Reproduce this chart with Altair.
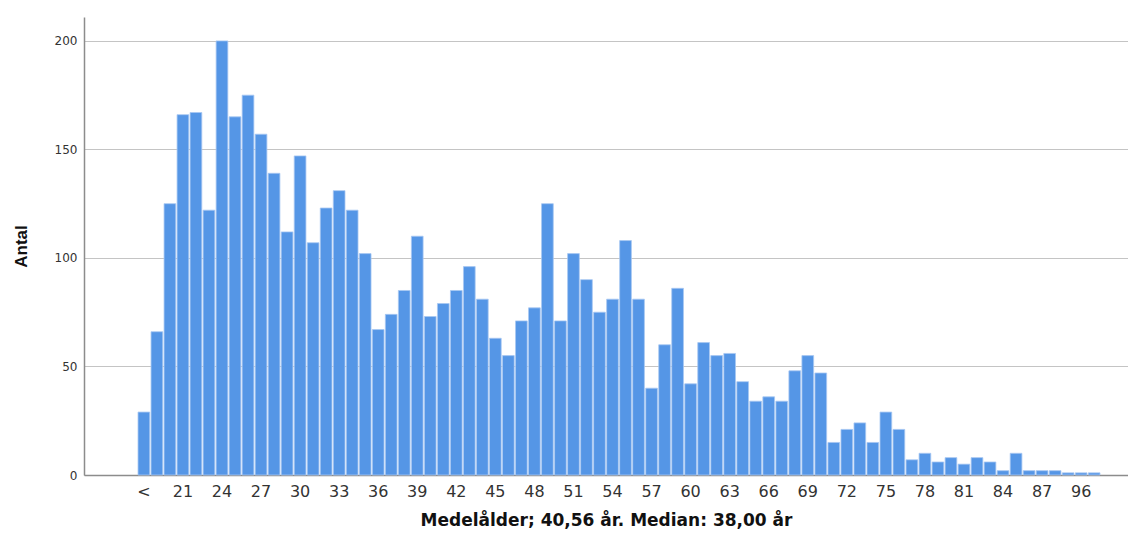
import altair as alt
import pandas as pd

categories = ["<"] + [str(a) for a in range(19, 89)] + ["91", "96", "98"]
counts = [29, 66, 125, 166, 167, 122, 200, 165, 175, 157,
          139, 112, 147, 107, 123, 131, 122, 102, 67, 74,
          85, 110, 73, 79, 85, 96, 81, 63, 55, 71,
          77, 125, 71, 102, 90, 75, 81, 108, 81, 40,
          60, 86, 42, 61, 55, 56, 43, 34, 36, 34,
          48, 55, 47, 15, 21, 24, 15, 29, 21, 7,
          10, 6, 8, 5, 8, 6, 2, 10, 2, 2,
          2, 1, 1, 1]
shown_labels = ["<"] + [str(a) for a in range(21, 88, 3)] + ["96"]
y_ticks = [0, 50, 100, 150, 200]

# empty slots so the bars sit where they do in the original axis
domain = ["_l1", "_l2", "_l3", "_l4"] + categories + ["_r1", "_r2"]

df = pd.DataFrame({"cat": categories, "n": counts})

chart = alt.Chart(df).mark_bar(
    color="#5596e6", stroke="#a8c8f2", strokeWidth=0.8
).encode(
    x=alt.X("cat:N",
            scale=alt.Scale(domain=domain, paddingInner=0.1, paddingOuter=0.15),
            axis=alt.Axis(values=shown_labels, labelAngle=0, ticks=False,
                          labelFont="DejaVu Sans", labelFontSize=16,
                          labelColor="#333333", labelPadding=8,
                          domainColor="#8c8c8c", domainWidth=1.5,
                          title="Medelålder; 40,56 år. Median: 38,00 år",
                          titleFont="DejaVu Sans", titleFontSize=17,
                          titleFontWeight="bold", titleColor="#111111",
                          titlePadding=13, grid=False)),
    y=alt.Y("n:Q", scale=alt.Scale(domain=[0, 211], nice=False),
            axis=alt.Axis(values=y_ticks, ticks=False,
                          labelFont="DejaVu Sans", labelFontSize=12,
                          labelColor="#333333", labelPadding=7,
                          domainColor="#8c8c8c", domainWidth=1.5,
                          gridColor="#c4c4c4", gridWidth=1,
                          title="Antal",
                          titleFont="Liberation Sans",
                          titleFontSize=17, titleFontWeight="bold",
                          titleColor="#111111", titlePadding=24)),
).properties(
    width=1044, height=458,
    autosize=alt.AutoSizeParams(type="none"),
    padding={"left": 76, "top": 9, "right": 0, "bottom": 59},
).configure_view(stroke=None)

chart.save("out.html", embed_options={"renderer": "svg", "actions": False})
